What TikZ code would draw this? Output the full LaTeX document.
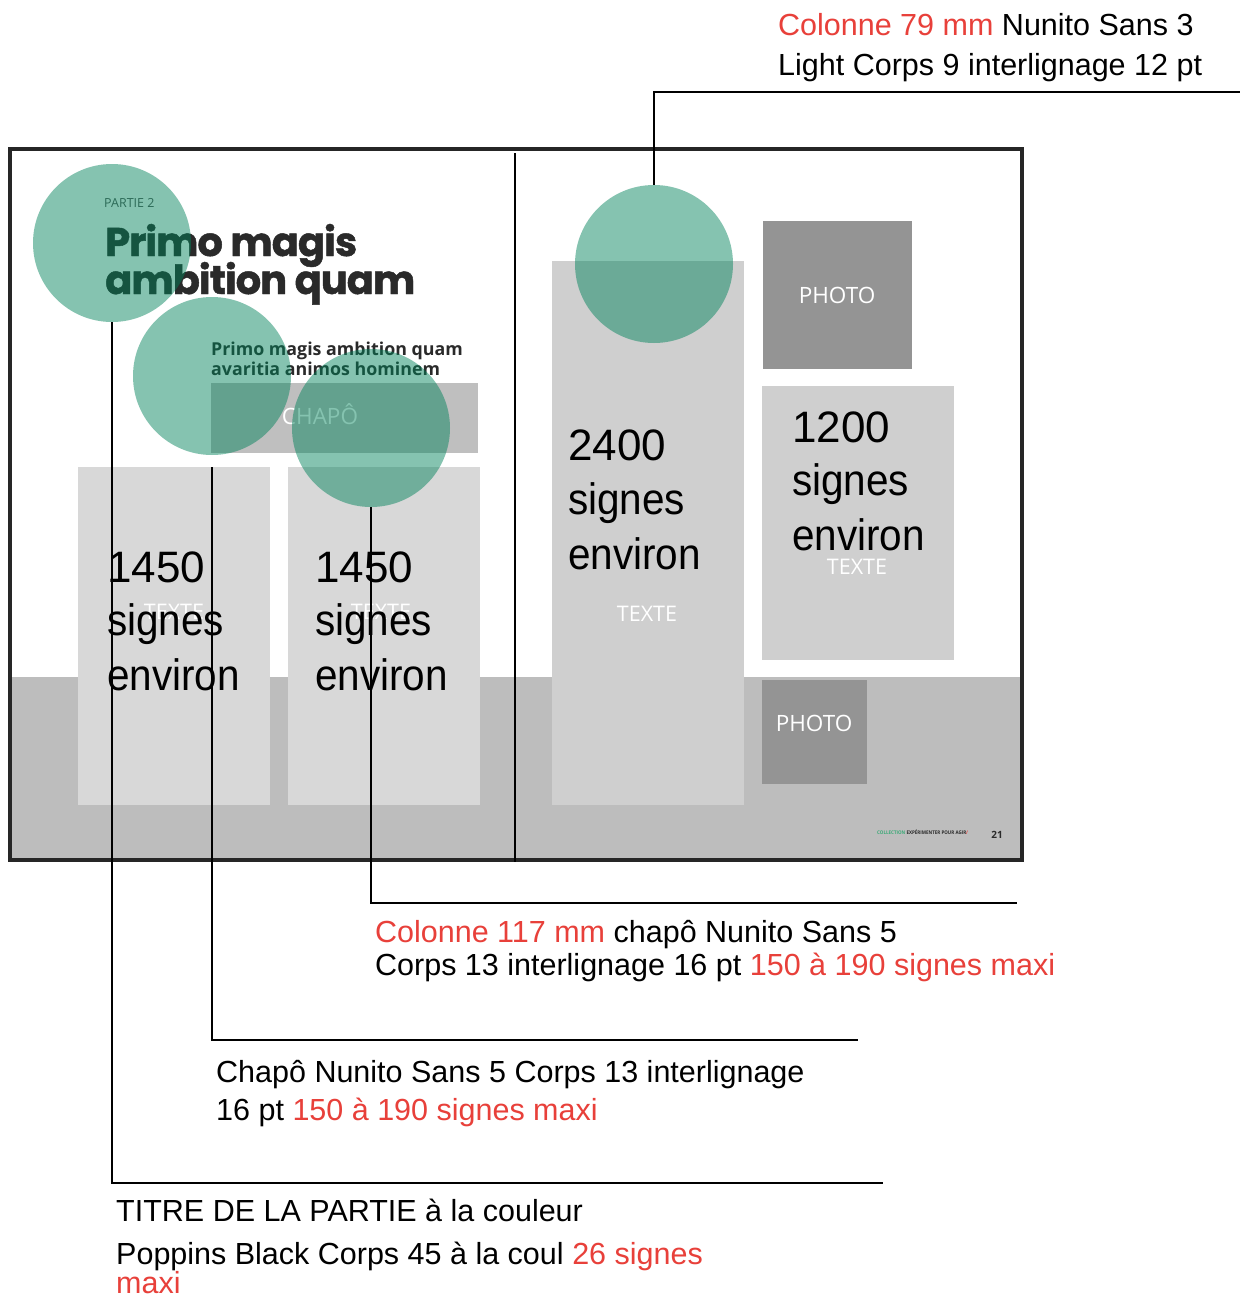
\documentclass[tikz,border=0pt]{standalone}
\usepackage{graphicx}
\usepackage{fontspec}
\setmainfont{Liberation Sans}
\newfontfamily\bignum{Liberation Sans}[FakeStretch=0.92]
\newfontfamily\poppins{Poppins}[LetterSpace=-2.5, BoldFeatures={FakeBold=1.2}]
\newfontfamily\osans{Open Sans}
\definecolor{framec}{HTML}{262626}
\definecolor{bandc}{HTML}{BDBDBD}
\definecolor{lboxc}{HTML}{D8D8D8}
\definecolor{rboxc}{HTML}{CFCFCF}
\definecolor{chapc}{HTML}{BFBFBF}
\definecolor{photoc}{HTML}{949494}
\definecolor{tealc}{RGB}{0,130,90}
\definecolor{redc}{RGB}{232,64,58}
\definecolor{titlec}{HTML}{2A2A2A}
\definecolor{greenc}{RGB}{60,170,120}
\newcommand{\dig}[1]{{\fontspec{Liberation Sans}#1}}
\begin{document}
\begin{tikzpicture}[x=1pt,y=-1pt,
  annot/.style={anchor=base west, inner sep=0, font=\fontsize{30.5}{36}\selectfont},
  big/.style={anchor=base west, inner sep=0, font=\bignum\fontsize{44}{53}\selectfont},
  lbl/.style={text=white, inner sep=0, font=\osans\fontsize{21.5}{24}\selectfont},
  bubble/.style={circle, minimum size=158pt, inner sep=0, fill=tealc, fill opacity=0.48, draw=none},
  conn/.style={draw=black, line width=2.4pt}
]
\useasboundingbox (0,0) rectangle (1240,1298);
\fill[white] (0,0) rectangle (1240,1298);

% page background shapes
\fill[bandc] (10,677) rectangle (1022,860);
\fill[lboxc] (78,467) rectangle (270,805);
\fill[lboxc] (288,467) rectangle (480,805);
\fill[chapc] (211,383) rectangle (478,453);
\fill[rboxc] (552,261) rectangle (744,805);
\fill[photoc] (763,221) rectangle (912,369);
\fill[rboxc] (762,386) rectangle (954,660);
\fill[photoc] (762,680) rectangle (867,784);

% white labels
\node[lbl, font=\osans\fontsize{22.5}{24}\selectfont] (chapo) at (320,414) {CHAPÔ};
\node[lbl] (tx1) at (174,612) {TEXTE};
\node[lbl] (tx2) at (381,612) {TEXTE};
\node[lbl] (tx3) at (647,614) {TEXTE};
\node[lbl] (tx4) at (857,567) {TEXTE};
\node[lbl, font=\osans\fontsize{22.5}{24}\selectfont] (ph1) at (837,295) {PHOTO};
\node[lbl, font=\osans\fontsize{22.5}{24}\selectfont] (ph2) at (814,723) {PHOTO};

% big numbers
\node[big] (a1) at (107,582) {\dig{1450}};
\node[big] (a2) at (107,635) {signes};
\node[big] (a3) at (107,690) {environ};
\node[big] (b1) at (315,582) {\dig{1450}};
\node[big] (b2) at (315,635) {signes};
\node[big] (b3) at (315,690) {environ};
\node[big] (d1) at (568,460) {\dig{2400}};
\node[big] (d2) at (568,514) {signes};
\node[big] (d3) at (568,569) {environ};
\node[big] (e1) at (792,442) {\dig{1200}};
\node[big] (e2) at (792,495) {signes};
\node[big] (e3) at (792,550) {environ};

% title and chapo text
\node[anchor=base west, inner sep=0, text=titlec!80!white, font=\osans\fontsize{12.5}{14}\selectfont] (partie) at (104,207) {PARTIE 2};
\node[anchor=base west, inner sep=0, text=titlec, font=\poppins\bfseries\fontsize{40}{40}\selectfont] (t1) at (105,256) {Primo magis};
\node[anchor=base west, inner sep=0, text=titlec, font=\poppins\bfseries\fontsize{40}{40}\selectfont] (t2) at (105,294) {ambition quam};
\node[anchor=base west, inner sep=0, text=titlec, font=\osans\bfseries\fontsize{17.8}{20}\selectfont] (s1) at (211,355) {Primo magis ambition quam};
\node[anchor=base west, inner sep=0, text=titlec, font=\osans\bfseries\fontsize{17.8}{20}\selectfont] (s2) at (211,375) {avaritia animos hominem};

% footer
\node[anchor=base west, inner sep=0, font=\osans\bfseries\fontsize{5}{6}\selectfont] (foot) at (877,834) {\scalebox{0.9}[1]{\textcolor{greenc}{COLLECTION} \textcolor{titlec}{EXPÉRIMENTER POUR AGIR}\textcolor{redc}{/}}};
\node[anchor=base, inner sep=0, text=titlec, font=\osans\bfseries\fontsize{10}{11}\selectfont] (pnum) at (997,838) {21};

% frame and divider
\draw[framec, line width=4.5pt] (10,149) rectangle (1022,860);
\draw[black, line width=2.5pt] (515,153) -- (515,862);

% bubbles
\node[bubble] (c1) at (112,243) {};
\node[bubble] (c2) at (212,376) {};
\node[bubble] (c3) at (371,428) {};
\node[bubble] (c4) at (654,264) {};

% connector ends
\coordinate (k1) at (1240,92);
\coordinate (k2) at (1017,903);
\coordinate (k3) at (858,1040);
\coordinate (k4) at (883,1183);
\draw[conn] (c4.north) |- (k1);
\draw[conn] (c3.south) |- (k2);
\draw[conn] ([yshift=-12pt]c2.south) |- (k3);
\draw[conn] (c1.south) |- (k4);

% annotations
\node[annot] (n1a) at (778,36) {\textcolor{redc}{Colonne 79 mm} Nunito Sans 3};
\node[annot] (n1b) at (778,76) {Light Corps 9 interlignage 12 pt};
\node[annot] (n2a) at (375,942) {\textcolor{redc}{Colonne 117 mm} chapô Nunito Sans 5};
\node[annot] (n2b) at (375,975) {Corps 13 interlignage 16 pt \textcolor{redc}{150 à 190 signes maxi}};
\node[annot] (n3a) at (216,1082) {Chapô Nunito Sans 5 Corps 13 interlignage};
\node[annot] (n3b) at (216,1120) {16 pt \textcolor{redc}{150 à 190 signes maxi}};
\node[annot] (n4a) at (116,1221) {TITRE DE LA PARTIE à la couleur};
\node[annot] (n4b) at (116,1264) {Poppins Black Corps 45 à la coul \textcolor{redc}{26 signes}};
\node[annot, text=redc] (n4c) at (116,1293) {maxi};
\end{tikzpicture}
\end{document}
